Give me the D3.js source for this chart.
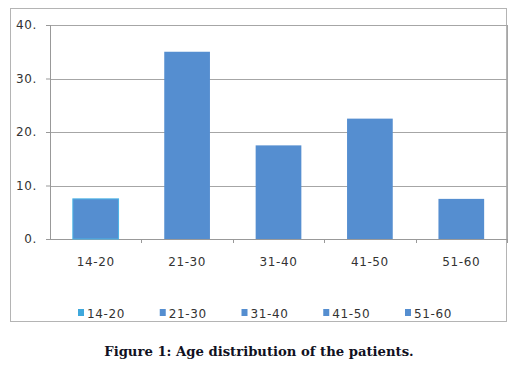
<!DOCTYPE html>
<html>
<head>
<meta charset="utf-8">
<script src="https://cdn.jsdelivr.net/npm/d3@7"></script>
<style>
  body { margin: 0; background: #fff; }
</style>
</head>
<body>
<div id="chart"></div>
<script>
(function(){
    const categories = ['14-20', '21-30', '31-40', '41-50', '51-60'];
    const values = [7.5, 35, 17.5, 22.5, 7.5];
    const yTicks = [0, 10, 20, 30, 40];
    const caption = 'Figure 1: Age distribution of the patients.';

    const fullWidth = 519;
    const fullHeight = 371;

    const margin = { top: 25, left: 50, bottom: 132, right: 12 };
    const width = fullWidth - margin.left - margin.right;
    const height = fullHeight - margin.top - margin.bottom;

    const labelFont = 'DejaVu Sans, Verdana, sans-serif';

    const svg = d3.select('#chart')
        .append('svg')
            .attr('width', fullWidth)
            .attr('height', fullHeight);

    // outer frame
    svg.append('rect')
        .attr('x', 10.5)
        .attr('y', 8.5)
        .attr('width', 496)
        .attr('height', 313)
        .attr('fill', 'none')
        .attr('stroke', '#b4b4b4')
        .attr('stroke-width', 1);

    const g = svg.append('g')
        .attr('transform', `translate(${margin.left}, ${margin.top})`);

    const xScale = d3.scaleBand()
        .domain(categories)
        .range([0, width])
        .paddingInner(0.5)
        .paddingOuter(0.25);

    const yScale = d3.scaleLinear()
        .domain([0, 40])
        .range([height, 0]);

    // gridlines
    g.selectAll('.grid')
        .data(yTicks.filter(d => d > 0))
        .enter()
        .append('line')
            .attr('class', 'grid')
            .attr('x1', 0)
            .attr('x2', width)
            .attr('y1', d => Math.round(yScale(d)) + 0.5)
            .attr('y2', d => Math.round(yScale(d)) + 0.5)
            .attr('stroke', '#a6a6a6');

    // right edge of plot
    g.append('line')
        .attr('x1', width + 0.5).attr('x2', width + 0.5)
        .attr('y1', Math.round(yScale(40))).attr('y2', height)
        .attr('stroke', '#a6a6a6');

    const yAxis = d3.axisLeft(yScale)
        .tickValues(yTicks)
        .tickFormat(d => d + '.')
        .tickSize(4)
        .tickPadding(9);

    const yG = g.append('g').call(yAxis);
    yG.select('.domain').attr('stroke', '#999').attr('d', `M0.5,${height}V${yScale(40)}`);
    yG.selectAll('.tick line').attr('stroke', '#999');
    yG.selectAll('text')
        .style('font-family', labelFont)
        .style('font-size', '12px')
        .style('letter-spacing', '0.6px')
        .style('fill', '#333');

    // x axis with ticks between categories
    const step = xScale.step();
    g.append('line')
        .attr('x1', 0).attr('x2', width)
        .attr('y1', height + 0.5).attr('y2', height + 0.5)
        .attr('stroke', '#999');
    g.selectAll('.xtick')
        .data(d3.range(1, categories.length + 1))
        .enter()
        .append('line')
            .attr('class', 'xtick')
            .attr('x1', d => Math.round(d * step) + 0.5)
            .attr('x2', d => Math.round(d * step) + 0.5)
            .attr('y1', height)
            .attr('y2', height + 4)
            .attr('stroke', '#999');

    g.selectAll('.xlabel')
        .data(categories)
        .enter()
        .append('text')
            .attr('class', 'xlabel')
            .attr('x', d => xScale(d) + xScale.bandwidth() / 2)
            .attr('y', height + 27)
            .style('text-anchor', 'middle')
            .style('font-family', labelFont)
            .style('font-size', '12px')
            .style('letter-spacing', '0.6px')
            .style('fill', '#333')
            .text(d => d);

    // bars
    g.selectAll('.bar')
        .data(values)
        .enter()
        .append('rect')
            .attr('class', 'bar')
            .attr('x', (d, i) => xScale(categories[i]))
            .attr('y', d => yScale(d))
            .attr('width', xScale.bandwidth())
            .attr('height', d => height - yScale(d))
            .attr('fill', '#558ed0')
            .attr('stroke', (d, i) => i === 0 ? '#4bb4e6' : 'none')
            .attr('stroke-width', 1);

    // legend
    const legendX = d3.scalePoint()
        .domain(categories)
        .range([78, 405]);

    const legend = svg.selectAll('.legend')
        .data(categories)
        .enter()
        .append('g')
            .attr('class', 'legend')
            .attr('transform', d => `translate(${legendX(d)}, 309)`);

    legend.append('rect')
        .attr('width', 6)
        .attr('height', 7)
        .attr('fill', (d, i) => i === 0 ? '#3fa8dc' : '#558ed0');

    legend.append('text')
        .attr('x', 9)
        .attr('y', 8.5)
        .style('font-family', labelFont)
        .style('font-size', '12px')
        .style('letter-spacing', '0.6px')
        .style('fill', '#333')
        .text(d => d);

    // caption
    svg.append('text')
        .attr('x', 259)
        .attr('y', 356)
        .style('text-anchor', 'middle')
        .style('font-family', 'DejaVu Serif, serif')
        .style('font-weight', 'bold')
        .style('font-size', '13.2px')
        .style('fill', '#111122')
        .text(caption);
}());
</script>
</body>
</html>
